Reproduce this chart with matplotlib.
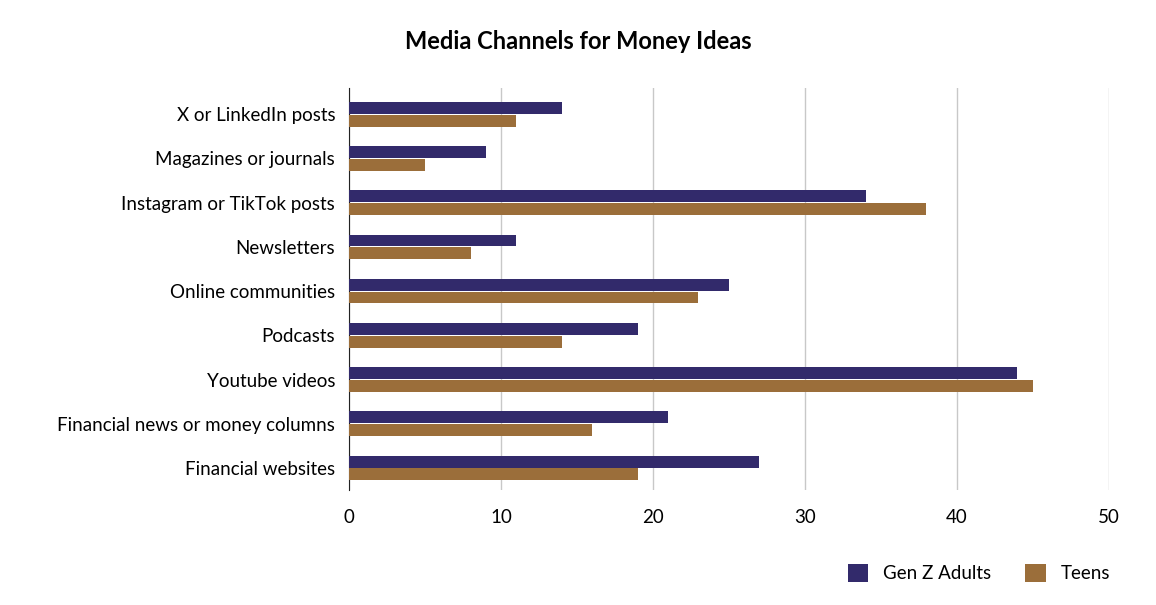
import numpy as np
import matplotlib.pyplot as plt

plt.rcParams['font.family'] = ['Lato', 'DejaVu Sans']

categories = ["X or LinkedIn posts", "Magazines or journals", "Instagram or TikTok posts",
              "Newsletters", "Online communities", "Podcasts", "Youtube videos",
              "Financial news or money columns", "Financial websites"]
gen_z = [14, 9, 34, 11, 25, 19, 44, 21, 27]
teens = [11, 5, 38, 8, 23, 14, 45, 16, 19]

fig = plt.figure(figsize=(11.56, 6.05), dpi=100)
ax = fig.add_axes([0.302, 0.19, 0.657, 0.665])

y = np.arange(len(categories))
h = 0.27
ax.barh(y - h / 2 - 0.01, gen_z, h, color='#322a6b', label='Gen Z Adults', zorder=3)
ax.barh(y + h / 2 + 0.01, teens, h, color='#9b6e3a', label='Teens', zorder=3)

ax.set_yticks(y)
ax.set_yticklabels(categories, fontsize=13.5)
ax.set_ylim(len(categories) - 0.5, -0.6)
ax.set_xlim(0, 50)
ax.set_xticks(range(0, 51, 10))
ax.tick_params(axis='x', labelsize=13.5, length=0, pad=14)
ax.tick_params(axis='y', length=0, pad=10)
ax.grid(axis='x', color='#c8c8c8', linewidth=1, zorder=0)
for s in ['top', 'right', 'bottom']:
    ax.spines[s].set_visible(False)
ax.spines['left'].set_color('#222222')

fig.suptitle('Media Channels for Money Ideas', fontsize=17, fontweight='bold', y=0.95)
fig.legend(loc='lower right', bbox_to_anchor=(0.975, 0.01), ncol=2, frameon=False,
           fontsize=13.5, handlelength=1.1, handleheight=1.1, columnspacing=1.8)

fig.savefig('out.png', dpi=100)
